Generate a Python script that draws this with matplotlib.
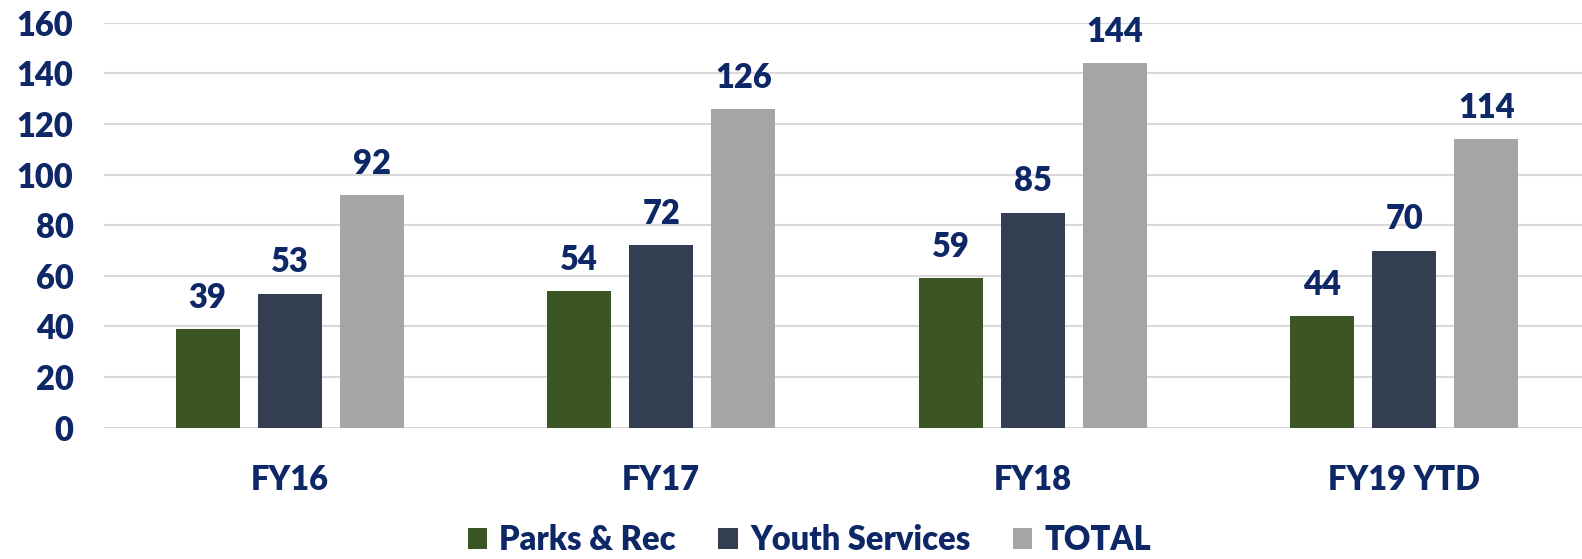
import matplotlib.pyplot as plt
import numpy as np

# data
categories = ['FY16', 'FY17', 'FY18', 'FY19 YTD']
parks_rec = [39, 54, 59, 44]
youth_services = [53, 72, 85, 70]
total = [92, 126, 144, 114]
series_names = ['Parks & Rec', 'Youth Services', 'TOTAL']

NAVY = '#0E2766'
COLORS = ['#3B5524', '#333F50', '#A5A5A5']
WT = 'heavy'
FS = 23.5

plt.rcParams['font.family'] = ['Lato', 'DejaVu Sans']
plt.rcParams['font.weight'] = WT

fig = plt.figure(figsize=(15.82, 5.59), dpi=100)
ax = fig.add_axes([104 / 1582, 1 - 427.7 / 559, 1486 / 1582, 405 / 559])

x = np.arange(len(categories))
width = 0.173
step = 0.221
for i, (vals, name) in enumerate(zip([parks_rec, youth_services, total], series_names)):
    bars = ax.bar(x + (i - 1) * step, vals, width, color=COLORS[i], label=name, zorder=3)
    for b, v in zip(bars, vals):
        ax.text(b.get_x() + b.get_width() / 2, v + 6, str(v), ha='center', va='bottom',
                fontsize=FS, fontweight=WT, color=NAVY)

ax.set_xlim(-0.5, len(categories) - 0.5)
ax.set_ylim(0, 160)
ax.set_yticks(range(0, 161, 20))
ax.yaxis.grid(True, color='#D9D9D9', linewidth=1.5, zorder=0)
ax.set_axisbelow(True)
for s in ax.spines.values():
    s.set_visible(False)
ax.tick_params(axis='both', length=0, labelsize=FS, labelcolor=NAVY)
ax.tick_params(axis='y', pad=22)
ax.tick_params(axis='x', pad=26)
ax.set_xticks(x)
ax.set_xticklabels(categories, fontweight=WT)
for lab in ax.get_yticklabels():
    lab.set_fontweight(WT)

leg = fig.legend(loc='center', bbox_to_anchor=(809.5 / 1582, 1 - 540 / 559), ncol=3, frameon=False,
                 fontsize=FS, handlelength=0.6, handleheight=0.6, handletextpad=0.37, columnspacing=1.3)
for t in leg.get_texts():
    t.set_color(NAVY)
    t.set_fontweight(WT)

fig.savefig('out.png', dpi=100)
